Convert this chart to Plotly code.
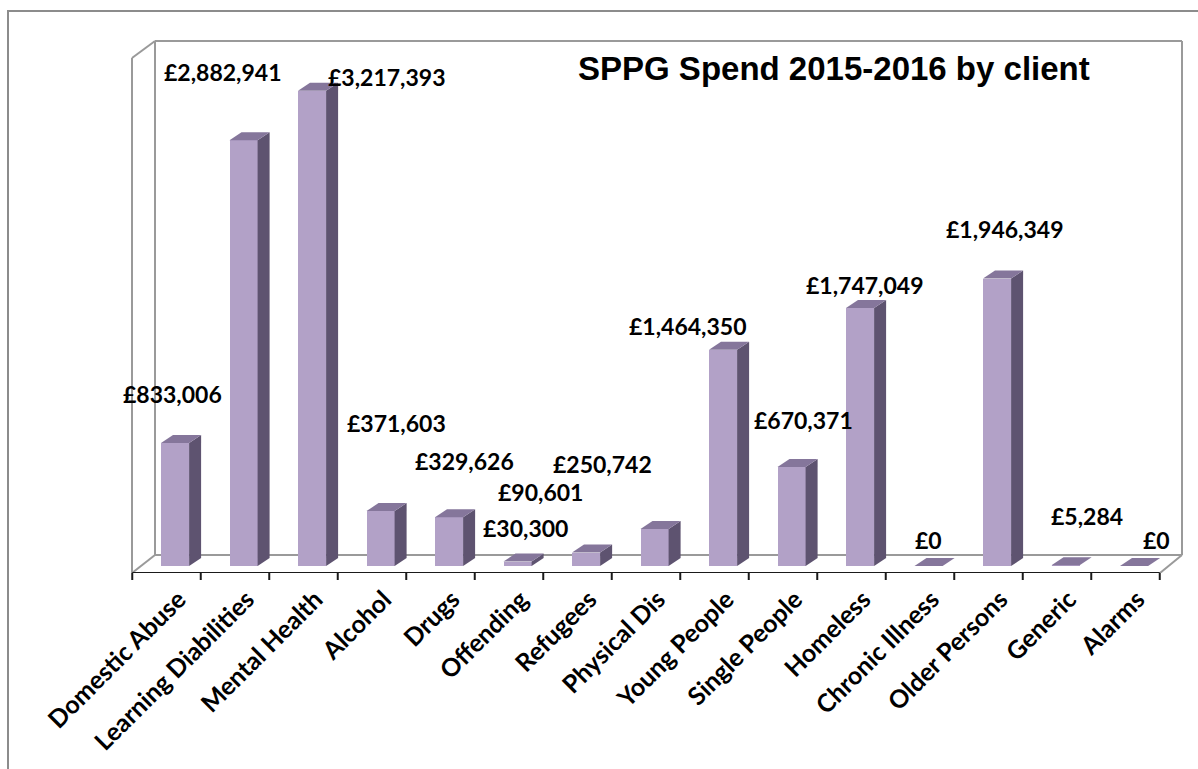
import plotly.graph_objects as go

# SPPG spend by client group, 2015-2016
categories = [
    "Domestic Abuse", "Learning Diabilities", "Mental Health", "Alcohol", "Drugs",
    "Offending", "Refugees", "Physical Dis", "Young People", "Single People",
    "Homeless", "Chronic Illness", "Older Persons", "Generic", "Alarms",
]
spend = [
    833006, 2882941, 3217393, 371603, 329626,
    30300, 90601, 250742, 1464350, 670371,
    1747049, 0, 1946349, 5284, 0,
]

# Where each data label sits (page pixels, label centre)
label_pos = [
    (172, 394), (222, 72), (386, 77), (396, 423), (464, 461),
    (525, 528), (540, 492), (602, 464), (687, 326), (803, 420),
    (864, 285), (928, 540), (1004, 229), (1087, 516), (1156, 540),
]

W, H = 1198, 769
PLOT_BOTTOM = 573          # front edge of the floor, in page pixels
ZERO_PX = 566              # page row of the value 0 on the bar front plane
PX_PER_CAT = 68.5
CAT0_PX = 166.5
PX_PER_POUND = 147.7e-6


def cx(px):
    return (px - CAT0_PX) / PX_PER_CAT


def cy(py):
    return (ZERO_PX - py) / PX_PER_POUND


FRONT = "#B2A1C7"
SIDE = "#5E5370"
TOP = "#85769B"

BAR_W = 0.41
BAR_OFF = -0.08
DX = 12 / PX_PER_CAT
DY = 8 / PX_PER_POUND

idx = list(range(len(categories)))

fig = go.Figure()

# depth faces of each bar (side and top), built from the values
for i, v in zip(idx, spend):
    left = i + BAR_OFF
    right = left + BAR_W
    fig.add_trace(go.Scatter(
        x=[right, right + DX, right + DX, right, right],
        y=[0, DY, v + DY, v, 0],
        fill="toself", fillcolor=SIDE, mode="lines",
        line=dict(width=0), hoverinfo="skip", showlegend=False,
    ))
    fig.add_trace(go.Scatter(
        x=[left, right, right + DX, left + DX, left],
        y=[v, v, v + DY, v + DY, v],
        fill="toself", fillcolor=TOP, mode="lines",
        line=dict(width=0), hoverinfo="skip", showlegend=False,
    ))

# front faces
fig.add_trace(go.Bar(
    x=idx, y=spend, width=BAR_W, offset=BAR_OFF,
    marker=dict(color=FRONT, line=dict(width=0)),
    showlegend=False, hoverinfo="skip",
))

# value labels
for v, (px, py) in zip(spend, label_pos):
    fig.add_annotation(
        x=cx(px), y=cy(py), xref="x", yref="y",
        text=f"£{v:,}", showarrow=False,
        font=dict(family="Lato", size=23, color="black", weight="bold"),
        xanchor="center", yanchor="middle",
    )

fig.add_annotation(
    x=cx(834), y=cy(68), xref="x", yref="y",
    text="SPPG Spend 2015-2016 by client", showarrow=False,
    font=dict(family="Liberation Sans", size=33, color="black", weight="bold"),
    xanchor="center", yanchor="middle",
)

shapes = []
WALL = dict(color="#9A9A9A", width=2)


def seg(x0, y0, x1, y1, line):
    shapes.append(dict(type="line", xref="x", yref="y", layer="below",
                       x0=cx(x0), y0=cy(y0), x1=cx(x1), y1=cy(y1), line=line))


# back wall, side wall and floor outline
seg(155, 41, 1182, 41, WALL)
seg(155, 41, 155, 555, WALL)
seg(1182, 41, 1182, 555, WALL)
seg(155, 555, 1182, 555, WALL)
seg(132, 58, 155, 41, WALL)
seg(132, 58, 132, 573, WALL)
seg(132, 573, 155, 555, WALL)
seg(1160, 573, 1182, 555, WALL)

# category axis with ticks on the boundaries
AXIS = dict(color="#1A1A1A", width=2)
shapes.append(dict(type="line", xref="x", yref="y", x0=-0.5, x1=len(categories) - 0.5,
                   y0=cy(573), y1=cy(573), line=AXIS))
for b in range(len(categories) + 1):
    shapes.append(dict(type="line", xref="x", yref="paper", x0=b - 0.5, x1=b - 0.5,
                       y0=0, y1=-7 / PLOT_BOTTOM, line=AXIS))

# outer chart frame
shapes.append(dict(type="rect", xref="paper", yref="paper",
                   x0=8 / W, x1=1.02, y0=(PLOT_BOTTOM - 11) / PLOT_BOTTOM, y1=-0.5,
                   line=dict(color="#8C8C8C", width=2), fillcolor="rgba(0,0,0,0)"))

fig.update_layout(
    width=W, height=H,
    margin=dict(l=0, r=0, t=0, b=H - PLOT_BOTTOM),
    paper_bgcolor="white", plot_bgcolor="white",
    shapes=shapes,
    bargap=0,
    xaxis=dict(
        range=[cx(0), cx(W)], tickvals=idx, ticktext=categories,
        tickangle=-45, ticks="", showgrid=False, zeroline=False, showline=False,
        ticklabelshift=12, ticklabelstandoff=6,
        tickfont=dict(family="Lato", size=25, color="black", weight="bold"),
        fixedrange=True,
    ),
    yaxis=dict(
        range=[cy(PLOT_BOTTOM), cy(0)], visible=False, showgrid=False,
        zeroline=False, fixedrange=True,
    ),
)

fig.write_html("out.html")
